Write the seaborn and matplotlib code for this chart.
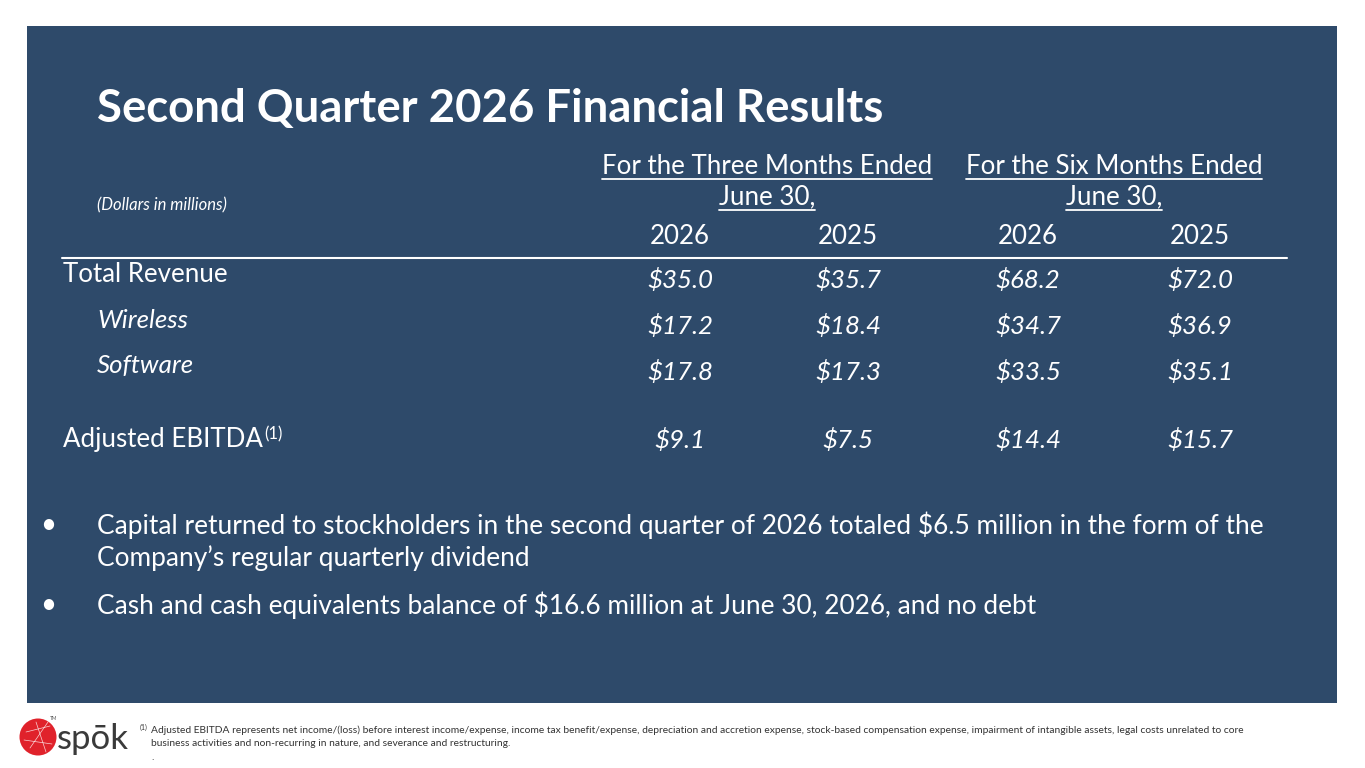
import matplotlib
matplotlib.use("Agg")
import matplotlib.pyplot as plt
from matplotlib.patches import Rectangle, Circle
import seaborn as sns

sns.set_theme(style="white")
plt.rcParams['font.family'] = ['Lato', 'DejaVu Sans']

# ---- data ----
title = "Second Quarter 2026 Financial Results"
units_note = "(Dollars in millions)"
period_headers = ["For the Three Months Ended", "For the Six Months Ended"]
period_sub = "June 30,"
years = ["2026", "2025", "2026", "2025"]
row_labels = ["Total Revenue", "Wireless", "Software", "Adjusted EBITDA"]
row_italic = [False, True, True, False]
row_indent = [False, True, True, False]
values = [
    [35.0, 35.7, 68.2, 72.0],
    [17.2, 18.4, 34.7, 36.9],
    [17.8, 17.3, 33.5, 35.1],
    [9.1, 7.5, 14.4, 15.7],
]
bullets = [
    ["Capital returned to stockholders in the second quarter of 2026 totaled $6.5 million in the form of the",
     "Company\u2019s regular quarterly dividend"],
    ["Cash and cash equivalents balance of $16.6 million at June 30, 2026, and no debt"],
]
footnote_lines = [
    "Adjusted EBITDA represents net income/(loss) before interest income/expense, income tax benefit/expense, "
    "depreciation and accretion expense, stock-based compensation expense, impairment of intangible assets, legal costs unrelated to core",
    "business activities and non-recurring in nature, and severance and restructuring.",
    ".",
]

W, H = 1365, 768
fig = plt.figure(figsize=(W / 100, H / 100), dpi=100)
ax = fig.add_axes([0, 0, 1, 1])
ax.set_xlim(0, W)
ax.set_ylim(H, 0)
ax.axis("off")
fig.patch.set_facecolor("white")

panel = "#2E4A6A"
ax.add_patch(Rectangle((27, 26), 1310, 677, facecolor=panel, edgecolor="none"))

white = "#FFFFFF"
FS = 18.6
ax.text(97, 109, title, color=white, fontsize=32.8, fontweight="bold", va="center", ha="left")
ax.text(97, 205, units_note, color=white, fontsize=12, style="italic", va="center", ha="left")

col_x = [680, 848, 1028, 1200]
hdr_x = [767, 1114]
fig.canvas.draw()
r = fig.canvas.get_renderer()
for hx, h in zip(hdr_x, period_headers):
    for txt, y in [(h, 166), (period_sub, 197)]:
        t = ax.text(hx, y, txt, color=white, fontsize=FS, va="center", ha="center")
        bb = t.get_window_extent(renderer=r)
        ax.plot([bb.x0, bb.x1], [y + 13, y + 13], color=white, lw=1.3)

for x, yr in zip(col_x, years):
    ax.text(x, 236, yr, color=white, fontsize=FS, va="center", ha="center")

ax.plot([62, 1287], [258, 258], color=white, lw=1.5)

row_y = [275, 320, 365, 440]
val_y = [280, 326, 372, 440]
for i, (lab, it, ind, ly, vy, vals) in enumerate(zip(row_labels, row_italic, row_indent, row_y, val_y, values)):
    t = ax.text(97 if ind else 63, ly, lab, color=white, fontsize=FS,
                style="italic" if it else "normal", va="center", ha="left")
    if i == 3:
        bb = t.get_window_extent(renderer=r)
        ax.text(bb.x1 + 1, ly - 6, "(1)", color=white, fontsize=12, va="center", ha="left")
    for x, v in zip(col_x, vals):
        ax.text(x, vy, f"${v:.1f}", color=white, fontsize=FS, style="italic", va="center", ha="center")

bullet_y = [525, 605]
for lines, y in zip(bullets, bullet_y):
    ax.text(40, y, "\u2022", color=white, fontsize=20, va="center", ha="left")
    for k, line in enumerate(lines):
        ax.text(97, y + 33 * k, line, color=white, fontsize=18.9, va="center", ha="left")

# footer
grey = "#333333"
ax.text(140, 727, "(1)", color=grey, fontsize=5, va="center", ha="left")
for k, line in enumerate(footnote_lines):
    ax.text(151, 730 + 13.5 * k, line, color=grey, fontsize=7.4, va="center", ha="left")

# logo
ax.add_patch(Circle((38, 737), 18.5, facecolor="#E0222B", edgecolor="none"))
for (x0, y0, x1, y1) in [(26, 732, 50, 726), (30, 748, 48, 722), (24, 740, 52, 744), (36, 722, 46, 752)]:
    ax.plot([x0, x1], [y0, y1], color="white", lw=0.5, alpha=0.8)
ax.text(57, 739, "sp\u014dk", color="#3A3A3A", fontsize=25, va="center", ha="left")
ax.text(50, 718, "TM", color="#555555", fontsize=3.5, va="center", ha="left")

fig.savefig("out.png", dpi=100, facecolor="white")
